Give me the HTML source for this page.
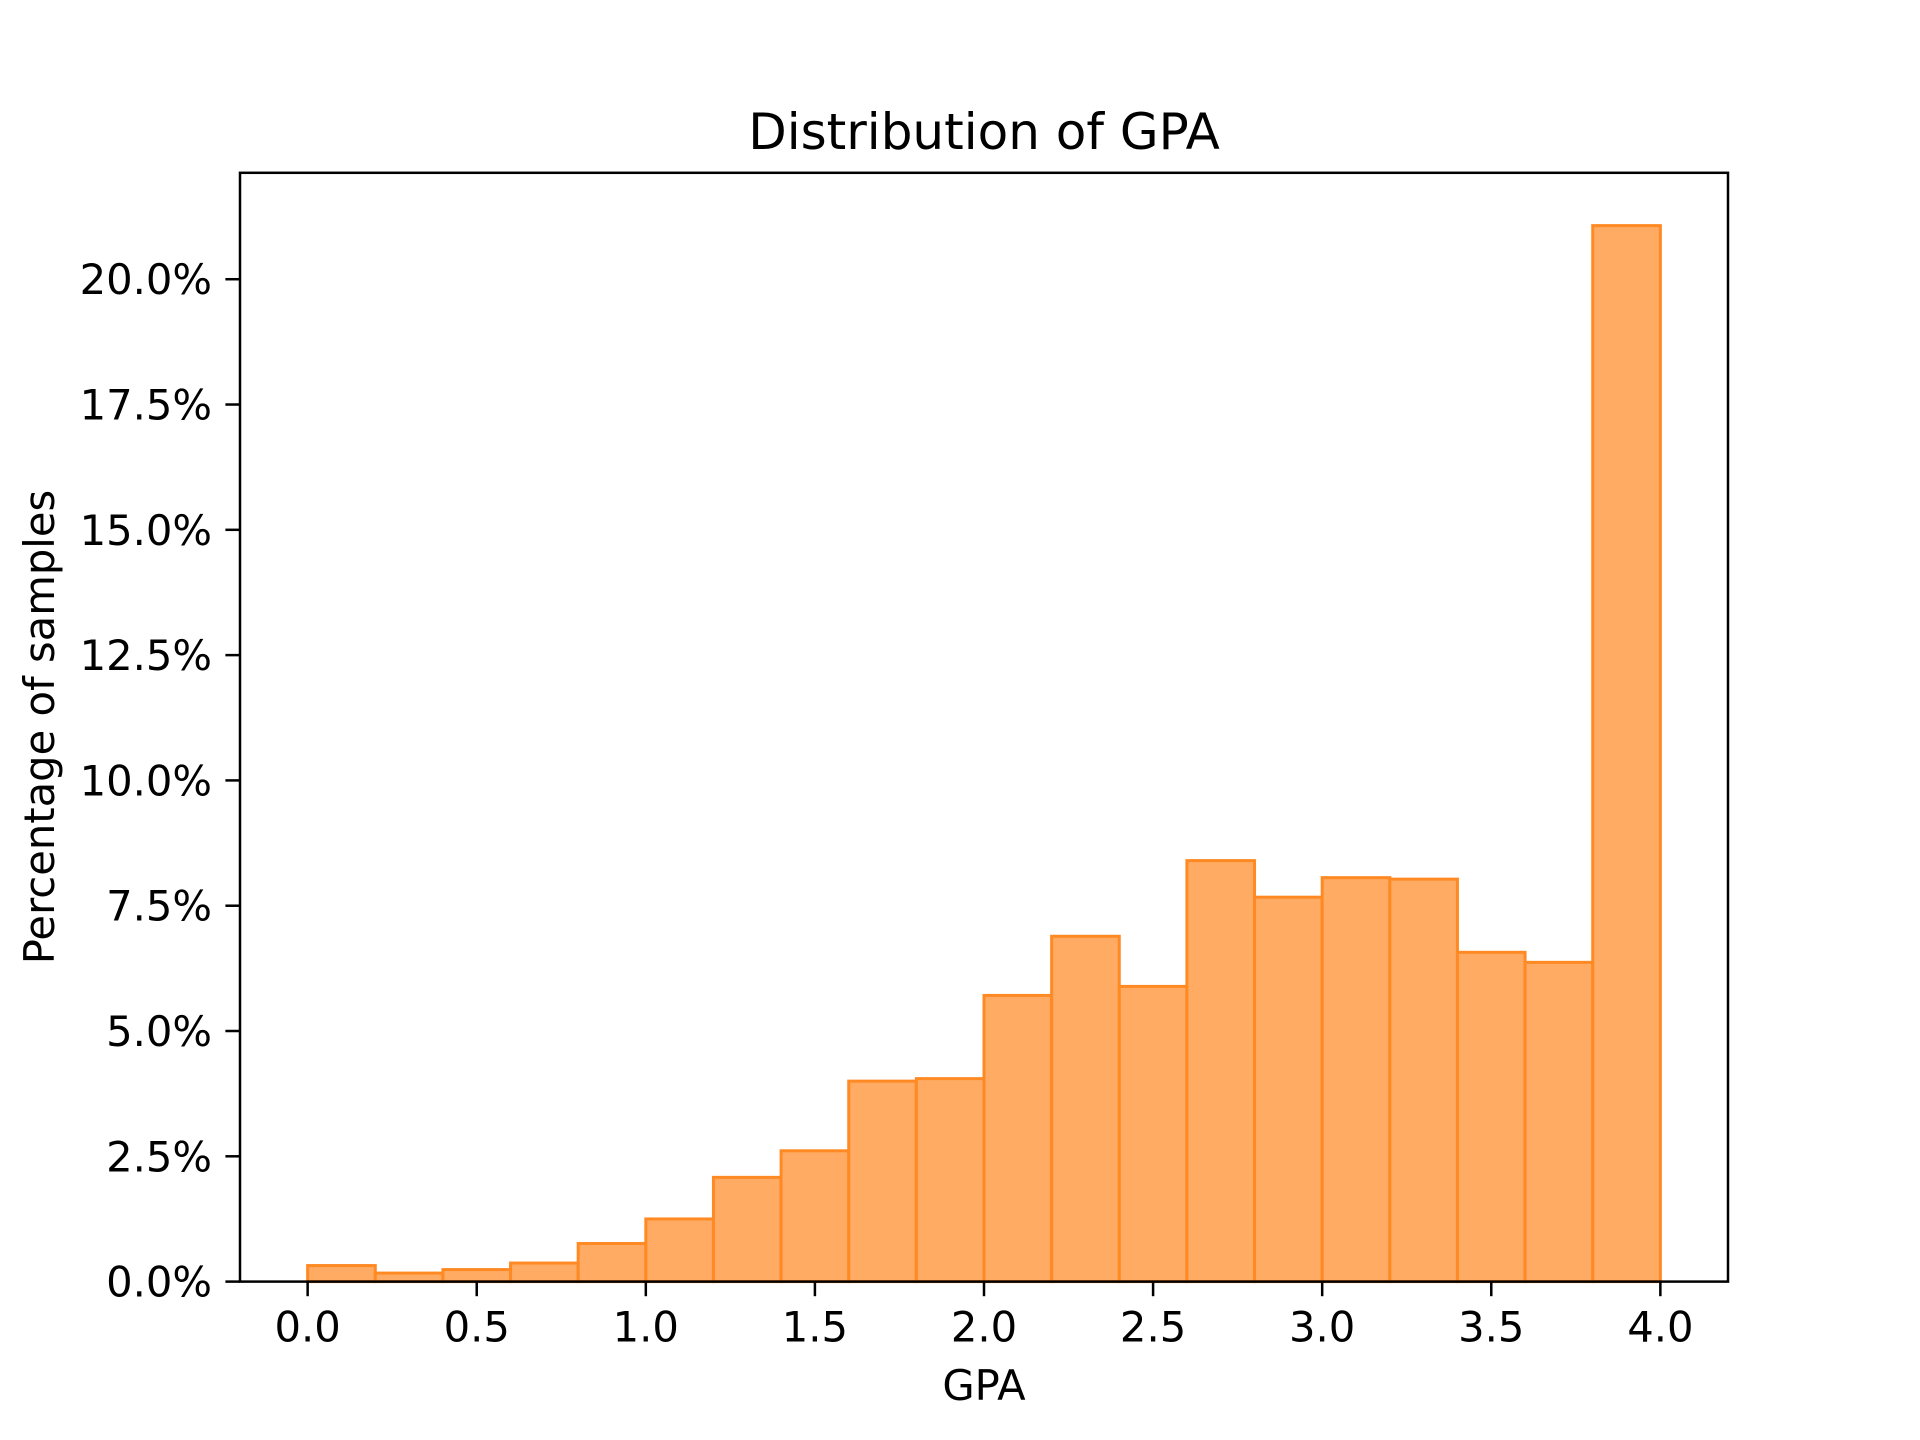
<!DOCTYPE html>
<html><head><meta charset="utf-8"><style>
body{margin:0;background:#fff}
svg{display:block;font-family:"DejaVu Sans","Liberation Sans",sans-serif}
</style></head><body>
<svg id="chart" width="1920" height="1440" viewBox="0 0 1920 1440">
<rect width="1920" height="1440" fill="#fff"/>
<text x="984" y="149" font-size="50" text-anchor="middle">Distribution of GPA</text>
<g id="bars"></g>
<rect x="240" y="172.8" width="1488" height="1108.8" fill="none" stroke="#000" stroke-width="2.5"/>
<g id="xt"></g><g id="yt"></g>
<text x="984" y="1400" font-size="41.7" text-anchor="middle">GPA</text>
<text transform="translate(54,727) rotate(-90)" font-size="41.7" text-anchor="middle">Percentage of samples</text>
</svg>
<script>
const binStarts=[0,0.2,0.4,0.6,0.8,1.0,1.2,1.4,1.6,1.8,2.0,2.2,2.4,2.6,2.8,3.0,3.2,3.4,3.6,3.8];
const percents=[0.32,0.17,0.24,0.37,0.76,1.25,2.08,2.61,4.0,4.05,5.71,6.89,5.89,8.40,7.67,8.06,8.03,6.57,6.37,21.07];
const binWidth=0.2;
const xTicks=[0,0.5,1,1.5,2,2.5,3,3.5,4];
const xTickLabels=["0.0","0.5","1.0","1.5","2.0","2.5","3.0","3.5","4.0"];
const yTicks=[0,2.5,5,7.5,10,12.5,15,17.5,20];
const yTickLabels=["0.0%","2.5%","5.0%","7.5%","10.0%","12.5%","15.0%","17.5%","20.0%"];
const NS="http://www.w3.org/2000/svg";
const L=240,R=1728,T=172.8,B=1281.6;
const xmin=-0.2,xmax=4.2,ymax=Math.max(...percents)*1.05;
const X=v=>L+(v-xmin)/(xmax-xmin)*(R-L);
const Y=v=>B-v/ymax*(B-T);
const bars=document.getElementById('bars');
binStarts.forEach((s,i)=>{
 const r=document.createElementNS(NS,'rect');
 r.setAttribute('x',X(s));r.setAttribute('width',X(s+binWidth)-X(s));
 r.setAttribute('y',Y(percents[i]));r.setAttribute('height',B-Y(percents[i]));
 r.setAttribute('fill','#ffab63');r.setAttribute('stroke','#ff8a24');r.setAttribute('stroke-width','3');
 
 
 bars.appendChild(r);
});
const xt=document.getElementById('xt');
xTicks.forEach((v,i)=>{
 const l=document.createElementNS(NS,'line');
 l.setAttribute('x1',X(v));l.setAttribute('x2',X(v));l.setAttribute('y1',B);l.setAttribute('y2',B+14.6);
 l.setAttribute('stroke','#000');l.setAttribute('stroke-width','2.5');
 
 
 xt.appendChild(l);
 const t=document.createElementNS(NS,'text');
 t.setAttribute('x',X(v));t.setAttribute('y',B+60);t.setAttribute('font-size','41.7');t.setAttribute('text-anchor','middle');
 t.textContent=xTickLabels[i];
 
 
 xt.appendChild(t);
});
const yt=document.getElementById('yt');
yTicks.forEach((v,i)=>{
 const l=document.createElementNS(NS,'line');
 l.setAttribute('x1',L-14.6);l.setAttribute('x2',L);l.setAttribute('y1',Y(v));l.setAttribute('y2',Y(v));
 l.setAttribute('stroke','#000');l.setAttribute('stroke-width','2.5');
 
 
 yt.appendChild(l);
 const t=document.createElementNS(NS,'text');
 t.setAttribute('x',L-28);t.setAttribute('y',Y(v)+15);t.setAttribute('font-size','41.7');t.setAttribute('text-anchor','end');
 t.textContent=yTickLabels[i];
 
 
 yt.appendChild(t);
});
</script>
</body></html>
